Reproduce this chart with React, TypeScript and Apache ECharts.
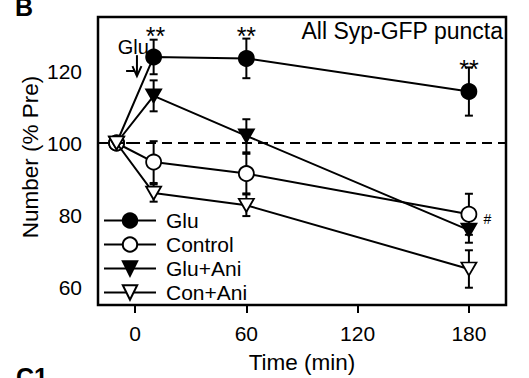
import React, { useEffect, useRef } from "react";
import * as echarts from "echarts";

const timePoints = [-10, 10, 60, 180];
const seriesNames = ["Glu", "Control", "Glu+Ani", "Con+Ani"];
const gluMean = [100, 123.9, 123.5, 114.3];
const gluErr = [0, 4.8, 5.5, 6.7];
const controlMean = [100, 94.7, 91.5, 80.2];
const controlErr = [0, 5.8, 5.5, 5.7];
const gluAniMean = [100, 113.1, 102, 75.8];
const gluAniErr = [0, 4.3, 4.6, 3.5];
const conAniMean = [100, 86.1, 82.7, 65];
const conAniErr = [0, 2.4, 3.0, 5.2];
const xTicks = [0, 60, 120, 180];
const yTicks = [60, 80, 100, 120];
const starPoints = [
  [11, 129.7],
  [60, 129.7],
  [180, 120.6],
];
const hashPoint = [[190, 78.9]];
const gluLabelPoint = [[-1, 126.7]];
const arrowSegment = [[1, 124.4, 118.6]];

const FONT = "'Liberation Sans', Arial, Helvetica, sans-serif";

export default function App() {
  const ref = useRef<HTMLDivElement>(null);
  useEffect(() => {
    if (!ref.current) return;
    const chart = echarts.init(ref.current, undefined, { renderer: "svg" });
    const black = "#000";

    const lineSeries = (
      name: string,
      mean: number[],
      filled: boolean,
      symbol: string,
      z: number
    ) => ({
      name,
      type: "line",
      data: timePoints.map((t, i) => [t, mean[i]]),
      symbol,
      symbolSize: symbol === "circle" ? 15 : [15, 13],
      symbolRotate: symbol === "triangle" ? 180 : 0,
      showSymbol: true,
      itemStyle: {
        color: filled ? black : "#fff",
        borderColor: black,
        borderWidth: 1.8,
        opacity: 1,
      },
      lineStyle: { color: black, width: 2 },
      z,
      silent: true,
    });

    const errSeries = (mean: number[], err: number[]) => ({
      type: "custom",
      data: timePoints.map((t, i) => [t, mean[i], err[i]]),
      z: 1,
      silent: true,
      renderItem: (_p: any, api: any) => {
        const x = api.value(0);
        const m = api.value(1);
        const e = api.value(2);
        if (!e) return { type: "group", children: [] };
        const top = api.coord([x, m + e]);
        const bot = api.coord([x, m - e]);
        const cw = 4;
        const st = { stroke: black, lineWidth: 2 };
        return {
          type: "group",
          children: [
            { type: "line", shape: { x1: top[0], y1: top[1], x2: bot[0], y2: bot[1] }, style: st },
            { type: "line", shape: { x1: top[0] - cw, y1: top[1], x2: top[0] + cw, y2: top[1] }, style: st },
            { type: "line", shape: { x1: bot[0] - cw, y1: bot[1], x2: bot[0] + cw, y2: bot[1] }, style: st },
          ],
        };
      },
    });

    const textSeries = (data: number[][], text: string, fontSize: number) => ({
      type: "custom",
      data,
      silent: true,
      z: 7,
      renderItem: (_p: any, api: any) => {
        const c = api.coord([api.value(0), api.value(1)]);
        return {
          type: "text",
          x: c[0],
          y: c[1],
          style: {
            text,
            fontSize,
            fontFamily: FONT,
            fill: black,
            align: "center",
            verticalAlign: "middle",
          },
        };
      },
    });

    const option: any = {
      animation: false,
      textStyle: { fontFamily: FONT, color: black },
      grid: {
        left: 98,
        right: 23,
        top: 17,
        bottom: 73,
        show: true,
        borderColor: black,
        borderWidth: 2.5,
        backgroundColor: "transparent",
      },
      xAxis: {
        type: "value",
        min: -20,
        max: 200,
        axisLine: { show: false },
        splitLine: { show: false },
        axisTick: {
          show: true,
          customValues: xTicks,
          length: 8,
          lineStyle: { color: black, width: 2 },
        },
        axisLabel: {
          customValues: xTicks,
          fontSize: 21,
          color: black,
          margin: 18,
          fontFamily: FONT,
        },
      },
      yAxis: {
        type: "value",
        min: 55,
        max: 135,
        axisLine: { show: false },
        splitLine: { show: false },
        axisTick: {
          show: true,
          customValues: yTicks,
          length: 9,
          lineStyle: { color: black, width: 2 },
        },
        axisLabel: {
          customValues: yTicks,
          fontSize: 21,
          color: black,
          margin: 16,
          fontFamily: FONT,
        },
      },
      legend: {
        data: seriesNames,
        orient: "vertical",
        left: 98,
        top: 205,
        itemWidth: 52,
        itemHeight: 18,
        itemGap: 3,
        selectedMode: false,
        textStyle: {
          fontSize: 21,
          color: black,
          fontFamily: FONT,
          padding: [0, 0, 0, 5],
        },
      },
      series: [
        errSeries(gluMean, gluErr),
        errSeries(controlMean, controlErr),
        errSeries(gluAniMean, gluAniErr),
        errSeries(conAniMean, conAniErr),
        {
          ...lineSeries("Glu", gluMean, true, "circle", 3),
          markLine: {
            silent: true,
            symbol: ["none", "none"],
            label: { show: false },
            lineStyle: { type: [10, 6], color: black, width: 2 },
            data: [{ yAxis: 100 }],
          },
        },
        lineSeries("Control", controlMean, false, "circle", 4),
        lineSeries("Glu+Ani", gluAniMean, true, "triangle", 5),
        lineSeries("Con+Ani", conAniMean, false, "triangle", 6),
        textSeries(starPoints, "**", 25),
        textSeries(hashPoint, "#", 14),
        textSeries(gluLabelPoint, "Glu", 20),
        {
          type: "custom",
          data: arrowSegment,
          silent: true,
          z: 7,
          renderItem: (_p: any, api: any) => {
            const x = api.value(0);
            const a = api.coord([x, api.value(1)]);
            const b = api.coord([x, api.value(2)]);
            const st = { stroke: black, lineWidth: 2, fill: "none" };
            return {
              type: "group",
              children: [
                { type: "line", shape: { x1: a[0], y1: a[1], x2: b[0], y2: b[1] }, style: st },
                {
                  type: "polyline",
                  shape: { points: [[b[0] - 4.5, b[1] - 10], [b[0], b[1]], [b[0] + 4.5, b[1] - 10]] },
                  style: st,
                },
              ],
            };
          },
        },
      ],
      graphic: [
        {
          type: "text",
          x: 15,
          y: 7,
          style: { text: "B", fontSize: 25, fontWeight: "bold", fontFamily: FONT, fill: black, verticalAlign: "middle" },
        },
        {
          type: "text",
          x: 16,
          y: 377,
          style: { text: "C1", fontSize: 25, fontWeight: "bold", fontFamily: FONT, fill: black, verticalAlign: "middle" },
        },
        {
          type: "text",
          x: 30,
          y: 157,
          rotation: Math.PI / 2,
          style: {
            text: "Number (% Pre)",
            fontSize: 22.5,
            fontFamily: FONT,
            fill: black,
            align: "center",
            verticalAlign: "middle",
          },
        },
        {
          type: "text",
          x: 302,
          y: 362,
          style: {
            text: "Time (min)",
            fontSize: 22.5,
            fontFamily: FONT,
            fill: black,
            align: "center",
            verticalAlign: "middle",
          },
        },
        {
          type: "text",
          x: 503,
          y: 31,
          style: {
            text: "All Syp-GFP puncta",
            fontSize: 23,
            fontFamily: FONT,
            fill: black,
            align: "right",
            verticalAlign: "middle",
          },
        },
      ],
    };
    chart.setOption(option);
    return () => chart.dispose();
  }, []);
  return (
    <div
      ref={ref}
      style={{ position: "fixed", left: 0, top: 0, width: 529, height: 378, background: "#fff" }}
    />
  );
}
